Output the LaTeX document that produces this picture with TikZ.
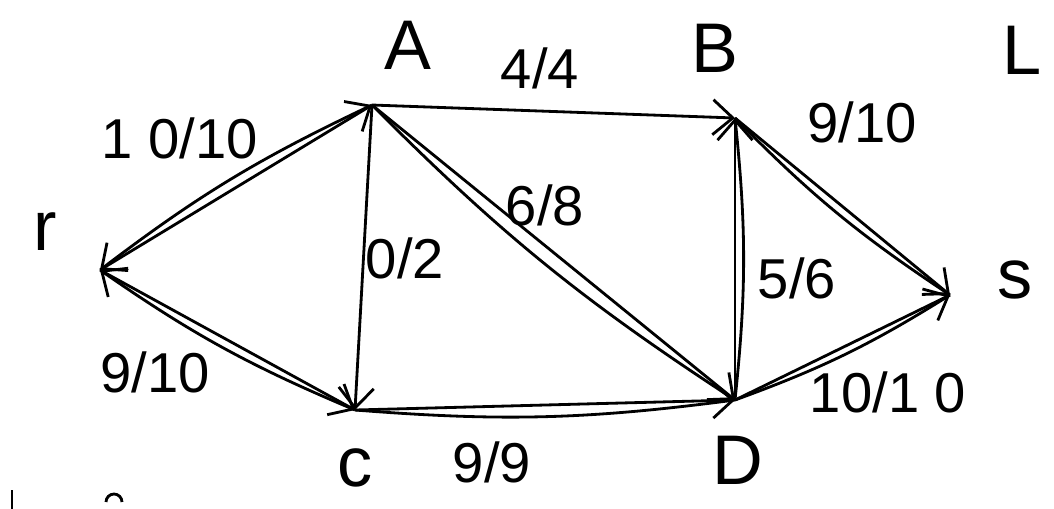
\documentclass[tikz,border=0pt]{standalone}
\usepackage{fontspec}
\setmainfont{Liberation Sans}
\usetikzlibrary{arrows.meta,positioning}
\tikzset{
  >={Straight Barb[length=4mm,width=7mm,line width=1.6pt]},
  vert/.style={inner sep=0pt,minimum size=0pt},
  vname/.style={font=\fontsize{40}{44}\selectfont},
  flowcap/.style={font=\fontsize{32}{36}\selectfont},
  edge/.style={->,line width=1.6pt},
  trace/.style={line width=1.6pt},
}
\begin{document}
\begin{tikzpicture}[x=0.02cm,y=-0.02cm]
  \useasboundingbox (0,0) rectangle (1054,508);
  % vertices (pixel positions)
  \coordinate (r) at (100,270);
  \coordinate (A) at (372,105);
  \coordinate (B) at (735,118);
  \coordinate (C) at (355,410);
  \coordinate (D) at (735,400);
  \coordinate (s) at (950,295);
  % vertex names
  \node[vname] (rn) at (45,232) {r};
  \node[vname] (An) at (408,45) {A};
  \node[vname] (Bn) at (715,48) {B};
  \node[vname] (Ln) at (1022,50) {L};
  \node[vname] (sn) at (1015,280) {s};
  \node[vname] (Cn) at (355,468) {c};
  \node[vname] (Dn) at (738,460) {D};
  % edges
  \foreach \a/\b in {r/A,A/B,A/C,A/D,r/C,C/D,D/B,B/s,D/s}
    \draw[edge] (\a) -- (\b);
  % flow traces
  \foreach \a/\b in {A/D,C/D,D/B,B/s,D/s}
    \draw[trace] (\a) to[bend right=6] (\b);
  \draw[trace,<-] (r) to[bend left=6] (A);
  \draw[trace,<-] (r) to[bend right=6] (C);
  % capacities
  \node[flowcap] (rA) at (180,138) {1 0/10};
  \node[flowcap] (AB) at (540,68) {4/4};
  \node[flowcap] (Bs) at (862,122) {9/10};
  \node[flowcap] (AD) at (545,205) {6/8};
  \node[flowcap] (AC) at (405,258) {0/2};
  \node[flowcap] (DB) at (797,278) {5/6};
  \node[flowcap] (rC) at (155,372) {9/10};
  \node[flowcap] (CD) at (492,462) {9/9};
  \node[flowcap] (Ds) at (888,392) {10/1 0};
  % cut-off strokes at the bottom
  \draw[trace] (12,490) -- (12,515);
  \draw[trace] (122,502) arc (0:-180:8);
\end{tikzpicture}
\end{document}
